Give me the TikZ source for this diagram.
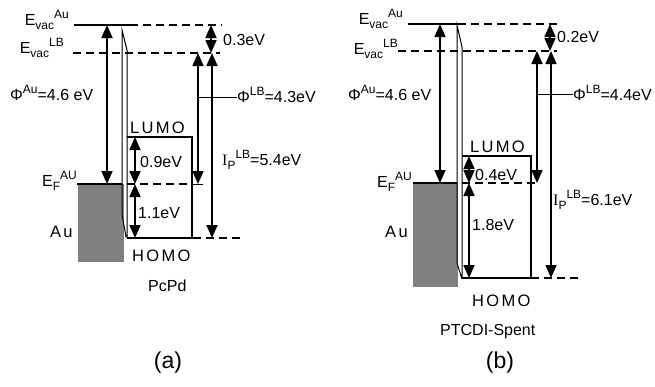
\documentclass[tikz,border=0pt]{standalone}
\usepackage{fontspec}
\setmainfont{Liberation Sans}
\newfontfamily\serifI{Liberation Serif}
\usetikzlibrary{arrows.meta}
\newcommand\upidx[1]{\raisebox{0.42em}{\fontsize{12}{12}\selectfont #1}}
\newcommand\dnidx[1]{\raisebox{-0.28em}{\fontsize{12}{12}\selectfont #1}}
\tikzset{
  lvl/.style={line width=2pt},
  dlvl/.style={line width=1.8pt,dash pattern=on 8pt off 5pt},
  edgeln/.style={line width=1.5pt},
  ifc/.style={line width=1pt},
  darr/.style={{Triangle[width=11pt,length=13pt]}-{Triangle[width=11pt,length=13pt]},line width=1.6pt},
  lbl/.style={font=\fontsize{16}{18}\selectfont,inner sep=0pt},
  spaced/.style={inner sep=0pt,font=\fontsize{16.5}{18}\selectfont\addfontfeature{LetterSpace=14}},
  tag/.style={font=\fontsize{23}{26}\selectfont,inner sep=0pt},
  metal/.style={fill=black!50,draw=none}
}
\begin{document}
\begin{tikzpicture}[x=1pt,y=-1pt]
  \useasboundingbox (0,0) rectangle (655,386);

  % (a) PcPd
  \fill[metal] (78,184) rectangle (124,262);
  \draw[lvl] (77,184) -- (122,184);
  \draw[lvl] (74,25) -- (130,25);
  \draw[dlvl] (130,25) -- (222,25);
  \draw[dlvl] (73,53) -- (220,53);
  \draw[dlvl] (127,184) -- (193,184);
  \draw[ifc] (193,184) -- (203,184);
  \draw[ifc] (126,237) -- (122,214) -- (122,30) -- (127,50) -- (127,238);
  \draw[edgeln] (127,137) -- (192,137) -- (192,238);
  \draw[edgeln] (127,238) -- (193,238);
  \draw[dlvl] (193,238) -- (240,238);

  \coordinate (aTop) at (107,25);
  \coordinate (aFermi) at (107,184);
  \draw[darr] (aTop) -- (aFermi);
  \draw[darr] (135,137) -- (135,184);
  \draw[darr] (135,184) -- (135,238);
  \draw[darr] (211,25) -- (211,53);
  \draw[darr] (198,53) -- (198,184);
  \draw[darr] (212,53) -- (212,238);

  \node[lbl,anchor=base east] (aVacAu) at (69,25) {E\dnidx{vac}\upidx{Au}};
  \node[lbl,anchor=base east] (aVacLB) at (64,53) {E\dnidx{vac}\upidx{LB}};
  \node[lbl,anchor=base west] (aPhiAu) at (10,100) {Φ\upidx{Au}=4.6 eV};
  \node[lbl,anchor=base east] (aEF) at (77,186) {E\dnidx{F}\upidx{AU}};
  \node[spaced,anchor=base west] (aAu) at (50,237) {Au};
  \node[spaced,anchor=base west] (aLumo) at (130,133) {LUMO};
  \node[spaced,anchor=base west] (aHomo) at (132,261) {HOMO};
  \node[lbl,anchor=base west] (aName) at (148,291) {PcPd};
  \node[tag] (aTag) at (168,363) {(a)};
  \node[lbl,anchor=base west] (aStep) at (223,45) {0.3eV};
  \node[lbl,anchor=base west] (aPhiLB) at (237,102) {Φ\upidx{LB}=4.3eV};
  \node[lbl,anchor=base west] (aIP) at (222,165) {{\serifI I}\dnidx{P}\upidx{LB}=5.4eV};
  \node[lbl,anchor=base west] (aLumoGap) at (140,167) {0.9eV};
  \node[lbl,anchor=base west] (aHomoGap) at (138,218) {1.1eV};
  \draw[ifc] (198,97) -- (aPhiLB.west |- 0,97);

  % (b) PTCDI-Spent
  \fill[metal] (413,183) rectangle (458,287);
  \draw[lvl] (413,183) -- (457,183);
  \draw[lvl] (408,24) -- (458,24);
  \draw[dlvl] (458,24) -- (557,24);
  \draw[dlvl] (398,51) -- (557,51);
  \draw[dlvl] (462,183) -- (540,183);
  \draw[ifc] (462,279) -- (457,263) -- (457,25) -- (462,47) -- (462,278);
  \draw[edgeln] (462,156) -- (531,156) -- (531,278);
  \draw[edgeln] (462,278) -- (531,278);
  \draw[dlvl] (531,278) -- (578,278);

  \coordinate (bTop) at (440,24);
  \coordinate (bFermi) at (440,183);
  \draw[darr] (bTop) -- (bFermi);
  \draw[darr] (469,156) -- (469,183);
  \draw[darr] (469,183) -- (469,278);
  \draw[darr] (550,24) -- (550,51);
  \draw[darr] (537,51) -- (537,183);
  \draw[darr] (551,51) -- (551,278);

  \node[lbl,anchor=base east] (bVacAu) at (403,24) {E\dnidx{vac}\upidx{Au}};
  \node[lbl,anchor=base east] (bVacLB) at (398,54) {E\dnidx{vac}\upidx{LB}};
  \node[lbl,anchor=base west] (bPhiAu) at (348,100) {Φ\upidx{Au}=4.6 eV};
  \node[lbl,anchor=base east] (bEF) at (412,187) {E\dnidx{F}\upidx{AU}};
  \node[spaced,anchor=base west] (bAu) at (385,237) {Au};
  \node[spaced,anchor=base west] (bLumo) at (470,152) {LUMO};
  \node[spaced,anchor=base west] (bHomo) at (472,306) {HOMO};
  \node[lbl,anchor=base west] (bName) at (440,335) {PTCDI-Spent};
  \node[tag] (bTag) at (500,363) {(b)};
  \node[lbl,anchor=base west] (bStep) at (557,42) {0.2eV};
  \node[lbl,anchor=base west] (bPhiLB) at (573,100) {Φ\upidx{LB}=4.4eV};
  \node[lbl,anchor=base west] (bIP) at (553,205) {{\serifI I}\dnidx{P}\upidx{LB}=6.1eV};
  \node[lbl,anchor=base west] (bLumoGap) at (475,180) {0.4eV};
  \node[lbl,anchor=base west] (bHomoGap) at (472,230) {1.8eV};
  \draw[ifc] (537,94) -- (bPhiLB.west |- 0,94);
\end{tikzpicture}
\end{document}
